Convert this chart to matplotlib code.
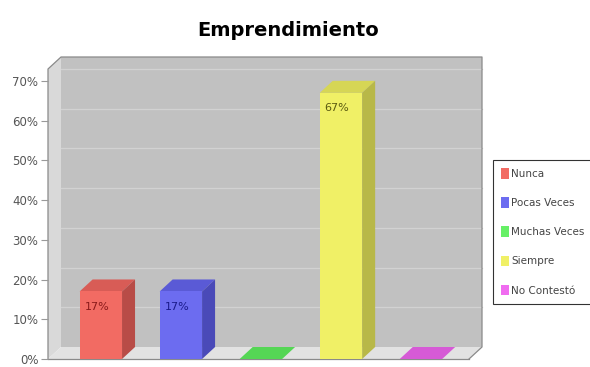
import matplotlib.pyplot as plt
from matplotlib.patches import Polygon, Patch
from matplotlib.transforms import IdentityTransform
from matplotlib.ticker import PercentFormatter

categories = ["Nunca", "Pocas Veces", "Muchas Veces", "Siempre", "No Contestó"]
values = [17, 17, 0, 67, 0]
labels = ["17%", "17%", "0%", "67%", "0%"]
yticks = [0, 10, 20, 30, 40, 50, 60, 70]

front = ["#f26b63", "#6c6cf0", "#66f066", "#f0f066", "#f06cf0"]
top = ["#d85c56", "#5a5ad6", "#55d655", "#d6d655", "#d65ad6"]
side = ["#b84c47", "#4a4ab8", "#48b848", "#b8b848", "#b848b8"]
text_col = ["#8a1a1a", "#1a1a8a", "#1a6a1a", "#5a5a10", "#7a1a7a"]

DX, DY = 13, 12  # depth offset in pixels

fig = plt.figure(figsize=(5.9, 3.67), dpi=100)
ax = fig.add_axes([48 / 590, 8 / 367, 421 / 590, 290 / 367])
ax.set_xlim(-0.66, 4.6)
ax.set_ylim(0, 73.0)
ax.patch.set_visible(False)
for s in ax.spines.values():
    s.set_visible(False)
ax.set_xticks([])
ax.set_yticks(yticks)
ax.yaxis.set_major_formatter(PercentFormatter(decimals=0))
ax.tick_params(axis="y", length=5, width=0.8, color="#999999",
               labelsize=8.5, labelcolor="#555555", pad=2)

x0, x1 = ax.get_xlim()
y0, y1 = ax.get_ylim()


def pt(x, y, d=0.0):
    px, py = ax.transData.transform((x, y))
    return (px + d * DX, py + d * DY)


def poly(pts, color, z):
    ax.add_patch(Polygon(pts, closed=True, facecolor=color, edgecolor="none",
                         transform=IdentityTransform(), clip_on=False, zorder=z))


def line(pts, color, z):
    ax.add_line(plt.Line2D([p[0] for p in pts], [p[1] for p in pts], color=color, lw=0.9,
                           transform=IdentityTransform(), clip_on=False, zorder=z))


# walls and floor
poly([pt(x0, y0, 1), pt(x1, y0, 1), pt(x1, y1, 1), pt(x0, y1, 1)], "#c1c1c1", 0.5)
poly([pt(x0, y0), pt(x0, y1), pt(x0, y1, 1), pt(x0, y0, 1)], "#d9d9d9", 0.6)
poly([pt(x0, y0), pt(x1, y0), pt(x1, y0, 1), pt(x0, y0, 1)], "#e2e2e2", 0.6)
for v in yticks[1:]:
    line([pt(x0, v, 1), pt(x1, v, 1)], "#d2d2d2", 0.7)
line([pt(x0, y0), pt(x0, y1), pt(x0, y1, 1), pt(x1, y1, 1), pt(x1, y0, 1), pt(x1, y0)],
     "#8a8a8a", 0.8)
line([pt(x0, y0), pt(x1, y0)], "#8a8a8a", 0.8)

# bars
w = 0.53
xs = list(range(len(categories)))
ax.bar(xs, values, width=w, color=front, zorder=3)
for i, v in enumerate(values):
    l, r = xs[i] - w / 2, xs[i] + w / 2
    poly([pt(l, v), pt(r, v), pt(r, v, 1), pt(l, v, 1)], top[i], 2.5)
    poly([pt(r, 0), pt(r, v), pt(r, v, 1), pt(r, 0, 1)], side[i], 2.5)
    if v > 0:
        ax.annotate(labels[i], (xs[i] - 0.05, v), xytext=(0, -11), textcoords="offset points",
                    ha="center", va="center", fontsize=8, color=text_col[i], zorder=4)

handles = [Patch(facecolor=c, edgecolor="none") for c in front]
leg = fig.legend(handles, categories, loc="upper left",
                 bbox_to_anchor=(493 / 590, 1 - 160 / 367), frameon=True,
                 fancybox=False, edgecolor="black", fontsize=7.5,
                 handlelength=0.7, handleheight=1.2, handletextpad=0.25,
                 labelspacing=1.75, borderpad=0.8, borderaxespad=0)
leg.get_frame().set_linewidth(0.8)
for t in leg.get_texts():
    t.set_color("#444444")

fig.text(0.488, 1 - 31 / 367, "Emprendimiento", ha="center", va="center",
         fontsize=14, fontweight="bold")

fig.savefig("out.png", dpi=100)
